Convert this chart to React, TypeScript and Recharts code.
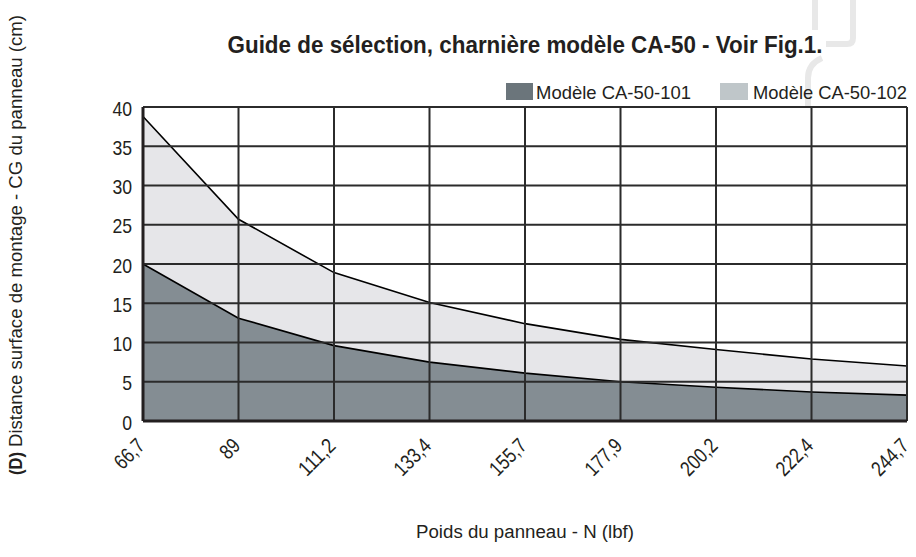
import React from "react";
import {
  ComposedChart,
  Area,
  XAxis,
  YAxis,
  CartesianGrid,
  Customized,
} from "recharts";

const categories = ["66,7", "89", "111,2", "133,4", "155,7", "177,9", "200,2", "222,4", "244,7"];
const model102 = [38.8, 25.7, 18.9, 15.1, 12.4, 10.4, 9.1, 7.9, 7.0];
const model101 = [20.0, 13.1, 9.6, 7.5, 6.1, 5.0, 4.3, 3.7, 3.3];
const yTicks = [0, 5, 10, 15, 20, 25, 30, 35, 40];

const seriesNames = ["Modèle CA-50-101", "Modèle CA-50-102"];
const titleText = "Guide de sélection, charnière modèle CA-50 - Voir Fig.1.";
const xTitle = "Poids du panneau - N (lbf)";
const yTitleBold = "(D)";
const yTitleRest = "Distance surface de montage - CG du panneau (cm)";

const data = categories.map((c, i) => ({ cat: c, m101: model101[i], m102: model102[i] }));

const FONT = "'Liberation Sans', Arial, sans-serif";
const TEXT = "#231f20";
const W = 916;
const H = 557;
const MARGIN = { top: 107, right: 9, bottom: 0, left: 0 };

const charWidth = (s: string) =>
  s.split("").reduce((acc, ch) => acc + (ch === "," ? 4.5 : 9.6), 0);

const XTick = (props: any) => {
  const { x, y, payload } = props;
  const s = String(payload.value);
  return (
    <g transform={`translate(${x + 3},${y + 18})`}>
      <text
        x={0}
        y={0}
        textAnchor="end"
        transform="rotate(-45)"
        fontFamily={FONT}
        fontSize={21}
        fill={TEXT}
        textLength={charWidth(s)}
        lengthAdjust="spacingAndGlyphs"
      >
        {s}
      </text>
    </g>
  );
};

const YTick = (props: any) => {
  const { y, payload } = props;
  const s = String(payload.value);
  return (
    <text
      x={132}
      y={y + 8.5}
      textAnchor="end"
      fontFamily={FONT}
      fontSize={21}
      fill={TEXT}
      textLength={s.length * 9.8}
      lengthAdjust="spacingAndGlyphs"
    >
      {s}
    </text>
  );
};

const Decor = () => (
  <g>
    <path d="M853 0 V38 Q853 44 847 44 H826" fill="none" stroke="#e8e8e8" strokeWidth={6} />
    <path d="M815 0 V30" fill="none" stroke="#e8e8e8" strokeWidth={6} />
    <path d="M822 58 Q808 64 808 78 V106" fill="none" stroke="#e8e8e8" strokeWidth={6} />
  </g>
);

const Overlay = () => (
  <g>
    <text
      x={525}
      y={53}
      textAnchor="middle"
      fontFamily={FONT}
      fontWeight="bold"
      fontSize={24}
      fill={TEXT}
      textLength={595}
      lengthAdjust="spacingAndGlyphs"
    >
      {titleText}
    </text>
    <rect x={506} y={83} width={27} height={17} fill="#6b757b" />
    <text x={536} y={99} fontFamily={FONT} fontSize={19} fill={TEXT} textLength={155} lengthAdjust="spacingAndGlyphs">
      {seriesNames[0]}
    </text>
    <rect x={720} y={83} width={28} height={17} fill="#bfc6c9" />
    <text x={753} y={99} fontFamily={FONT} fontSize={19} fill={TEXT} textLength={154} lengthAdjust="spacingAndGlyphs">
      {seriesNames[1]}
    </text>
    <g transform="translate(22,475) rotate(-90)">
      <text x={0} y={0} fontFamily={FONT} fontWeight="bold" fontSize={18} fill={TEXT} textLength={23} lengthAdjust="spacingAndGlyphs">
        {yTitleBold}
      </text>
      <text x={28} y={0} fontFamily={FONT} fontSize={18} fill={TEXT} textLength={432} lengthAdjust="spacingAndGlyphs">
        {yTitleRest}
      </text>
    </g>
    <text
      x={525}
      y={538}
      textAnchor="middle"
      fontFamily={FONT}
      fontSize={18}
      fill={TEXT}
      textLength={218}
      lengthAdjust="spacingAndGlyphs"
    >
      {xTitle}
    </text>
  </g>
);

export default function App() {
  return (
    <div style={{ position: "absolute", left: 0, top: 0, width: W, height: H, background: "#fff" }}>
      <div style={{ position: "absolute", left: 0, top: 0 }}>
        <ComposedChart width={W} height={H} data={data} margin={MARGIN}>
          <XAxis dataKey="cat" height={136} tick={false} tickLine={false} axisLine={false} interval={0} />
          <YAxis width={143} domain={[0, 40]} ticks={yTicks} tick={false} tickLine={false} axisLine={false} />
          <Area
            type="linear"
            dataKey="m102"
            name={seriesNames[1]}
            fill="#e6e6e9"
            fillOpacity={1}
            stroke="#000"
            strokeWidth={1.6}
            isAnimationActive={false}
            dot={false}
            activeDot={false}
          />
          <Area
            type="linear"
            dataKey="m101"
            name={seriesNames[0]}
            fill="#848d93"
            fillOpacity={1}
            stroke="#000"
            strokeWidth={1.6}
            isAnimationActive={false}
            dot={false}
            activeDot={false}
          />
        </ComposedChart>
      </div>
      <div style={{ position: "absolute", left: 0, top: 0 }}>
        <ComposedChart width={W} height={H} data={data} margin={MARGIN}>
          <Customized component={Decor} />
          <CartesianGrid stroke="#2b2b2b" strokeWidth={2} strokeOpacity={1} fill="none" />
          <XAxis
            dataKey="cat"
            height={136}
            tick={<XTick />}
            tickLine={false}
            axisLine={{ stroke: "#231f20", strokeWidth: 3 }}
            interval={0}
          />
          <YAxis
            width={143}
            domain={[0, 40]}
            ticks={yTicks}
            tick={<YTick />}
            tickLine={false}
            axisLine={{ stroke: "#231f20", strokeWidth: 3 }}
            interval={0}
          />
          <Area
            type="linear"
            dataKey="m102"
            fill="none"
            stroke="none"
            isAnimationActive={false}
            dot={false}
            activeDot={false}
            legendType="none"
          />
          <Customized component={Overlay} />
        </ComposedChart>
      </div>
    </div>
  );
}
